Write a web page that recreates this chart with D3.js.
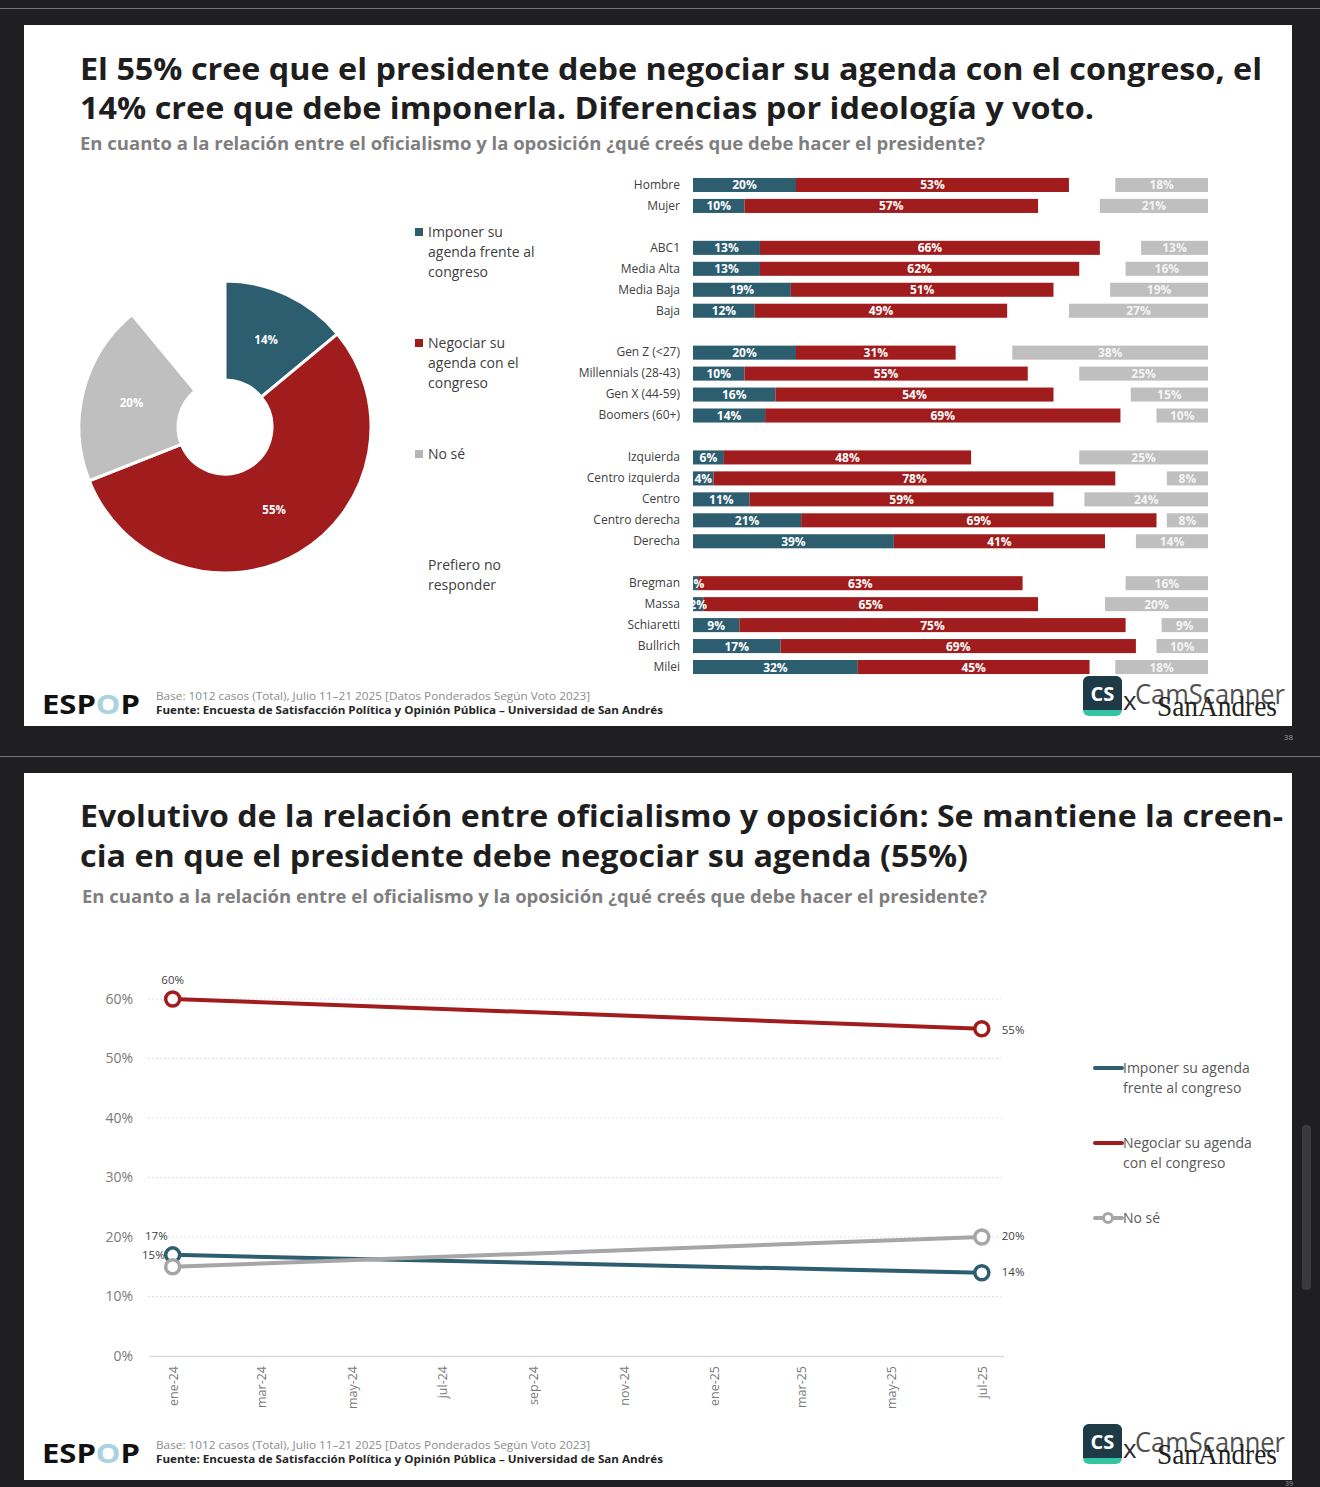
<!DOCTYPE html>
<html>
<head>
<meta charset="utf-8">
<script src="https://cdn.jsdelivr.net/npm/d3@7"></script>
<style>
    html, body { margin: 0; padding: 0; background: #1f1f21; }
    svg { display: block; font-family: "Open Sans", "Noto Sans", sans-serif; }
</style>
</head>
<body>
<div id="page"></div>
<script>
// --- donut ---
const donutLabels = [
    ['Imponer su', 'agenda frente al', 'congreso'],
    ['Negociar su', 'agenda con el', 'congreso'],
    ['No sé'],
    ['Prefiero no', 'responder'],
];
const donutValues = [14, 55, 20, 11];

// --- stacked bars by segment ---
const categories = [
    'Hombre', 'Mujer',
    'ABC1', 'Media Alta', 'Media Baja', 'Baja',
    'Gen Z (<27)', 'Millennials (28-43)', 'Gen X (44-59)', 'Boomers (60+)',
    'Izquierda', 'Centro izquierda', 'Centro', 'Centro derecha', 'Derecha',
    'Bregman', 'Massa', 'Schiaretti', 'Bullrich', 'Milei',
];
const groupOf = [0, 0, 1, 1, 1, 1, 2, 2, 2, 2, 3, 3, 3, 3, 3, 4, 4, 4, 4, 4];
const imponer = [20, 10, 13, 13, 19, 12, 20, 10, 16, 14, 6, 4, 11, 21, 39, 1, 2, 9, 17, 32];
const negociar = [53, 57, 66, 62, 51, 49, 31, 55, 54, 69, 48, 78, 59, 69, 41, 63, 65, 75, 69, 45];
const noSe = [18, 21, 13, 16, 19, 27, 38, 25, 15, 10, 25, 8, 24, 8, 14, 16, 20, 9, 10, 18];

// --- evolution ---
const waves = [new Date(2024, 0, 1), new Date(2025, 6, 1)];
const serieImponer = [17, 14];
const serieNegociar = [60, 55];
const serieNoSe = [15, 20];
const lineLegend = [
    ['Imponer su agenda', 'frente al congreso'],
    ['Negociar su agenda', 'con el congreso'],
    ['No sé'],
];
const yTicks = [0, 10, 20, 30, 40, 50, 60];
const mesesCortos = ['ene', 'feb', 'mar', 'abr', 'may', 'jun', 'jul', 'ago', 'sep', 'oct', 'nov', 'dic'];

const BLUE = '#2d5e6f', RED = '#a11d1d', GREY = '#bfbfbf', LGREY = '#a6a6a6';

const W = 1320, H = 1487;
const svg = d3.select('#page')
              .append('svg')
              .attr('width', W)
              .attr('height', H)
              .attr('viewBox', `0 0 ${W} ${H}`);

svg.append('rect').attr('width', W).attr('height', H).attr('fill', '#1f1f21');
[8.5, 756.5].forEach(y => {
    svg.append('line').attr('x1', 0).attr('x2', W).attr('y1', y).attr('y2', y)
       .attr('stroke', '#77777a').attr('stroke-width', 1);
});
svg.append('rect').attr('x', 24).attr('y', 25).attr('width', 1268).attr('height', 701).attr('fill', '#ffffff');
svg.append('rect').attr('x', 24).attr('y', 773).attr('width', 1268).attr('height', 707).attr('fill', '#ffffff');
svg.append('rect').attr('x', 1302).attr('y', 1125).attr('width', 9).attr('height', 165).attr('rx', 4).attr('fill', '#3a3a3c');

svg.append('text').attr('x', 1293).attr('y', 740).attr('text-anchor', 'end')
   .attr('font-size', 8).attr('fill', '#9a9a9a').text('38');
svg.append('text').attr('x', 1293).attr('y', 1486).attr('text-anchor', 'end')
   .attr('font-size', 7).attr('fill', '#9a9a9a').text('39');

function fitText(sel, width) {
    sel.attr('textLength', width).attr('lengthAdjust', 'spacingAndGlyphs');
    return sel;
}

function heading(lines, baselines, widths, sub, subY, subX, subW) {
    lines.forEach((t, i) => {
        svg.append('text')
           .attr('x', 80).attr('y', baselines[i])
           .attr('font-size', 31).attr('font-weight', 700).attr('fill', '#1e1e1e')
           .text(t)
           .call(fitText, widths[i]);
    });
    svg.append('text')
       .attr('x', subX).attr('y', subY)
       .attr('font-size', 17).attr('font-weight', 700).attr('fill', '#7f7f7f')
       .text(sub)
       .call(fitText, subW);
}

const subtitle = 'En cuanto a la relación entre el oficialismo y la oposición ¿qué creés que debe hacer el presidente?';

heading(
    ['El 55% cree que el presidente debe negociar su agenda con el congreso, el',
     '14% cree que debe imponerla. Diferencias por ideología y voto.'],
    [80, 119], [1182, 1014], subtitle, 150, 80, 905);

heading(
    ['Evolutivo de la relación entre oficialismo y oposición: Se mantiene la creen-',
     'cia en que el presidente debe negociar su agenda (55%)'],
    [827, 867], [1203, 888], subtitle, 903, 82, 905);

function footer(y) {
    let logo = svg.append('text')
                  .attr('x', 42).attr('y', y + 14)
                  .attr('font-size', 26).attr('font-weight', 700).attr('fill', '#111');
    logo.append('tspan').text('ESP');
    logo.append('tspan').attr('fill', '#a9d3df').text('O');
    logo.append('tspan').text('P');
    logo.call(fitText, 98);

    svg.append('text')
       .attr('x', 156).attr('y', y)
       .attr('font-size', 11).attr('fill', '#8c8c8c')
       .text('Base: 1012 casos (Total), Julio 11–21 2025 [Datos Ponderados Según Voto 2023]')
       .call(fitText, 434);
    svg.append('text')
       .attr('x', 156).attr('y', y + 14)
       .attr('font-size', 11).attr('font-weight', 700).attr('fill', '#262626')
       .text('Fuente: Encuesta de Satisfacción Política y Opinión Pública – Universidad de San Andrés')
       .call(fitText, 507);
}
footer(700);
footer(1449);

function watermark(x0, y0) {
    let g = svg.append('g');
    g.append('rect').attr('x', x0).attr('y', y0).attr('width', 39).attr('height', 40).attr('rx', 6).attr('fill', '#35c4a1');
    g.append('rect').attr('x', x0).attr('y', y0).attr('width', 39).attr('height', 34).attr('rx', 6).attr('fill', '#1d3a46');
    g.append('rect').attr('x', x0).attr('y', y0 + 22).attr('width', 39).attr('height', 12).attr('fill', '#1d3a46');
    g.append('text').attr('x', x0 + 19.5).attr('y', y0 + 25).attr('text-anchor', 'middle')
     .attr('font-size', 20).attr('font-weight', 700).attr('fill', '#fff').text('CS');
    g.append('text').attr('x', x0 + 40).attr('y', y0 + 34)
     .attr('font-size', 26).attr('fill', '#2a2a2a').text('x');
    g.append('text').attr('x', x0 + 52).attr('y', y0 + 28)
     .attr('font-size', 27).attr('fill', '#333').attr('opacity', 0.85)
     .text('CamScanner').call(fitText, 150);
    g.append('text').attr('x', x0 + 74).attr('y', y0 + 40)
     .attr('font-size', 29).attr('font-family', '"Liberation Serif", serif').attr('fill', '#222')
     .text('SanAndres').call(fitText, 120);
}
watermark(1083, 676);
watermark(1083, 1424);

// ---------- donut ----------
const pieData = d3.pie().sort(null).value(d => d)(donutValues);
const arc = d3.arc().innerRadius(47).outerRadius(146);
const donutColours = [BLUE, RED, GREY, 'none'];
const donut = svg.append('g').attr('transform', 'translate(225,427)');

donut.selectAll('path')
     .data(pieData)
     .enter()
     .append('path')
     .attr('d', arc)
     .attr('fill', (d, i) => donutColours[i])
     .attr('stroke', (d, i) => i < 3 ? '#fff' : 'none')
     .attr('stroke-width', 3);

donut.selectAll('text')
     .data(pieData.slice(0, 3))
     .enter()
     .append('text')
     .attr('x', d => arc.centroid(d)[0])
     .attr('y', d => arc.centroid(d)[1] + 4)
     .attr('text-anchor', 'middle')
     .attr('font-size', 11.5).attr('font-weight', 700).attr('fill', '#fff')
     .text(d => d.data + '%');

const legendColours = [BLUE, RED, '#b5b5b5', null];
donutLabels.forEach((lines, k) => {
    let top = 232 + k * 111;
    if (legendColours[k]) {
        svg.append('rect').attr('x', 415).attr('y', top - 4).attr('width', 8).attr('height', 8)
           .attr('fill', legendColours[k]);
    }
    lines.forEach((t, j) => {
        svg.append('text')
           .attr('x', 428).attr('y', top + 5 + j * 20)
           .attr('font-size', 14).attr('fill', '#404040')
           .text(t);
    });
});

// ---------- stacked bars ----------
const rows = categories.map((label, i) => ({
    label: label,
    idx: i + groupOf[i],
    imp: imponer[i],
    neg: negociar[i],
    ns: noSe[i],
}));

const x = d3.scaleLinear().domain([0, 100]).range([693, 1208]);
const yB = d3.scaleBand()
             .domain(d3.range(24))
             .range([174.5, 677.5])
             .paddingInner(0.33)
             .paddingOuter(0.165);

svg.append('defs').append('clipPath').attr('id', 'barClip')
   .append('rect').attr('x', 693).attr('y', 160).attr('width', 530).attr('height', 530);

let catAxis = svg.append('g')
                 .attr('transform', 'translate(693,0)')
                 .call(d3.axisLeft(yB)
                         .tickValues(rows.map(r => r.idx))
                         .tickFormat(i => rows.find(r => r.idx === i).label)
                         .tickSize(0)
                         .tickPadding(13));
catAxis.select('.domain').remove();
catAxis.attr('font-family', null).attr('font-size', null);
catAxis.selectAll('text').attr('font-size', 12).attr('fill', '#404040');

const bars = svg.append('g').attr('clip-path', 'url(#barClip)');
const segments = [
    { colour: BLUE, from: r => 0, to: r => r.imp, val: r => r.imp },
    { colour: RED, from: r => r.imp, to: r => r.imp + r.neg, val: r => r.neg },
    { colour: GREY, from: r => 100 - r.ns, to: r => 100, val: r => r.ns },
];

segments.forEach(s => {
    bars.selectAll(null)
        .data(rows)
        .enter()
        .append('rect')
        .attr('x', r => x(s.from(r)))
        .attr('y', r => yB(r.idx))
        .attr('width', r => x(s.to(r)) - x(s.from(r)))
        .attr('height', yB.bandwidth())
        .attr('fill', s.colour);
});
segments.forEach(s => {
    bars.selectAll(null)
        .data(rows)
        .enter()
        .append('text')
        .attr('x', r => (x(s.from(r)) + x(s.to(r))) / 2)
        .attr('y', r => yB(r.idx) + yB.bandwidth() / 2 + 4.5)
        .attr('text-anchor', 'middle')
        .attr('font-size', 12).attr('font-weight', 700)
        .attr('fill', s.colour === GREY ? '#f4f4f4' : '#ffffff')
        .text(r => s.val(r) + '%');
});

// ---------- evolution line chart ----------
const xT = d3.scaleTime()
             .domain([new Date(2023, 11, 16), new Date(2025, 6, 16)])
             .range([149, 1004]);
const yL = d3.scaleLinear().domain([0, 60]).range([1356, 999]);

svg.append('g')
   .selectAll('line')
   .data(yTicks.filter(t => t > 0))
   .enter()
   .append('line')
   .attr('x1', 148).attr('x2', 1001)
   .attr('y1', d => yL(d)).attr('y2', d => yL(d))
   .attr('stroke', '#dcdcdc').attr('stroke-width', 1).attr('stroke-dasharray', '2,2');

let yAxis = svg.append('g')
               .attr('transform', 'translate(149,0)')
               .call(d3.axisLeft(yL).tickValues(yTicks).tickSize(0).tickPadding(16).tickFormat(d => d + '%'));
yAxis.select('.domain').remove();
yAxis.attr('font-family', null).attr('font-size', null);
yAxis.selectAll('text').attr('font-size', 14).attr('fill', '#7a7a7a');

let xAxis = svg.append('g')
               .attr('transform', `translate(0,${yL(0)})`)
               .call(d3.axisBottom(xT)
                       .ticks(d3.timeMonth.every(2))
                       .tickSize(0)
                       .tickFormat(d => mesesCortos[d.getMonth()] + '-' + d3.timeFormat('%y')(d)));
xAxis.select('.domain').attr('stroke', '#d9d9d9').attr('stroke-width', 1.5);
xAxis.attr('font-family', null).attr('font-size', null);
xAxis.selectAll('text')
     .attr('font-size', 12.5).attr('fill', '#7a7a7a')
     .attr('text-anchor', 'end')
     .attr('transform', 'rotate(-90)')
     .attr('x', -10).attr('y', 0).attr('dy', '0.35em');

const series = [
    { values: serieImponer, colour: BLUE, labels: [[-5, -15, 'end'], [20, 3, 'start']] },
    { values: serieNegociar, colour: RED, labels: [[0, -15, 'middle'], [20, 5, 'start']] },
    { values: serieNoSe, colour: LGREY, labels: [[-8, -8, 'end'], [20, 3, 'start']] },
];

const line = d3.line().x(d => xT(d.date)).y(d => yL(d.v));

series.forEach(s => {
    s.points = waves.map((date, i) => ({ date: date, v: s.values[i] }));
    svg.append('path')
       .datum(s.points)
       .attr('d', line)
       .attr('fill', 'none')
       .attr('stroke', s.colour)
       .attr('stroke-width', 4);
});

series.forEach(s => {
    s.points.forEach((p, i) => {
        let [dx, dy, anchor] = s.labels[i];
        svg.append('text')
           .attr('x', xT(p.date) + dx).attr('y', yL(p.v) + dy)
           .attr('text-anchor', anchor)
           .attr('font-size', 11.5).attr('fill', '#404040')
           .text(p.v + '%');
    });
});

series.forEach(s => {
    svg.selectAll(null)
       .data(s.points)
       .enter()
       .append('circle')
       .attr('cx', d => xT(d.date))
       .attr('cy', d => yL(d.v))
       .attr('r', 7)
       .attr('fill', '#fff')
       .attr('stroke', s.colour)
       .attr('stroke-width', 3.5);
});

lineLegend.forEach((lines, k) => {
    let yc = 1068 + k * 75;
    let s = series[k];
    svg.append('line')
       .attr('x1', 1095).attr('x2', 1122).attr('y1', yc).attr('y2', yc)
       .attr('stroke', s.colour).attr('stroke-width', 4).attr('stroke-linecap', 'round');
    if (k === 2) {
        svg.append('circle').attr('cx', 1108).attr('cy', yc).attr('r', 4.5)
           .attr('fill', '#fff').attr('stroke', s.colour).attr('stroke-width', 3);
    }
    lines.forEach((t, j) => {
        svg.append('text')
           .attr('x', 1123).attr('y', yc + 5 + j * 20)
           .attr('font-size', 14).attr('fill', '#595959')
           .text(t);
    });
});
</script>
</body>
</html>
